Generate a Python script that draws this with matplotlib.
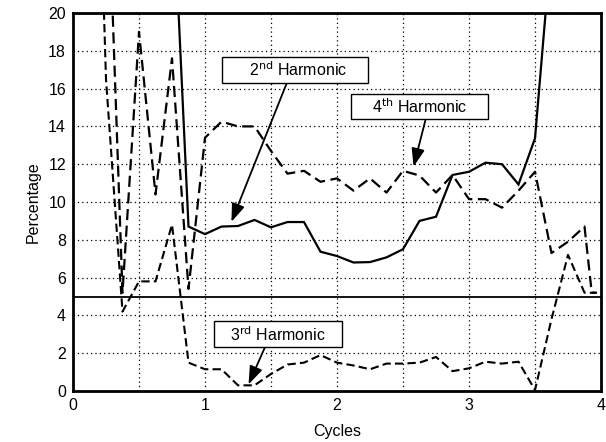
import matplotlib
matplotlib.use("Agg")
import matplotlib.pyplot as plt
from matplotlib.patches import Rectangle

plt.rcParams['font.family'] = ['Liberation Sans', 'DejaVu Sans']

# 2nd harmonic (solid)
x2 = [0.75, 0.875, 1.0, 1.125, 1.25, 1.375, 1.5, 1.625, 1.75, 1.875, 2.0, 2.125,
      2.25, 2.375, 2.5, 2.625, 2.75, 2.875, 3.0, 3.125, 3.25, 3.375, 3.5, 3.625]
h2 = [27.5, 8.7, 8.3, 8.7, 8.73, 9.05, 8.66, 8.94, 8.94, 7.37, 7.14, 6.8,
      6.82, 7.07, 7.5, 9.0, 9.22, 11.43, 11.6, 12.08, 12.0, 10.93, 13.37, 23.7]

# 3rd harmonic (short dashes)
x3 = [0.125, 0.25, 0.375, 0.5, 0.625, 0.75, 0.875, 1.0, 1.125, 1.25, 1.375, 1.5,
      1.625, 1.75, 1.875, 2.0, 2.125, 2.25, 2.375, 2.5, 2.625, 2.75, 2.875, 3.0,
      3.125, 3.25, 3.375, 3.5, 3.625, 3.75, 3.875, 3.96]
h3 = [45.0, 16.5, 4.2, 5.8, 5.8, 8.8, 1.5, 1.15, 1.15, 0.3, 0.3, 0.9,
      1.4, 1.5, 1.9, 1.5, 1.35, 1.15, 1.45, 1.45, 1.5, 1.8, 1.05, 1.2,
      1.55, 1.45, 1.55, 0.05, 3.8, 7.2, 5.2, 5.2]

# 4th harmonic (long dashes)
x4 = [0.25, 0.375, 0.5, 0.625, 0.75, 0.875, 1.0, 1.125, 1.25, 1.375, 1.5, 1.625,
      1.75, 1.875, 2.0, 2.125, 2.25, 2.375, 2.5, 2.625, 2.75, 2.875, 3.0, 3.125,
      3.25, 3.375, 3.5, 3.625, 3.75, 3.875, 3.93, 3.97]
h4 = [30.0, 5.2, 19.0, 10.4, 17.6, 5.4, 13.4, 14.25, 14.0, 14.0, 12.7, 11.5,
      11.65, 11.07, 11.25, 10.6, 11.25, 10.5, 11.65, 11.4, 10.5, 11.43, 10.15, 10.15,
      9.7, 10.6, 11.6, 7.3, 7.9, 8.7, 5.2, 5.2]

threshold = 5
xticks = [0, 0.5, 1, 1.5, 2, 2.5, 3, 3.5, 4]
xticklabels = ['0', '', '1', '', '2', '', '3', '', '4']
yticks = [0, 2, 4, 6, 8, 10, 12, 14, 16, 18, 20]

labels = [r'2$^{\mathrm{nd}}$ Harmonic', r'4$^{\mathrm{th}}$ Harmonic', r'3$^{\mathrm{rd}}$ Harmonic']

fig = plt.figure(figsize=(6.06, 4.42), dpi=100)
ax = fig.add_axes([73/606, 1 - 391/442, (601-73)/606, (391-13)/442])

ax.plot(x2, h2, color='black', lw=1.6, solid_joinstyle='miter')
ax.plot(x3, h3, color='black', lw=1.5, dashes=(4, 2))
ax.plot(x4, h4, color='black', lw=1.6, dashes=(5, 2.5))
ax.axhline(threshold, color='black', lw=1.3)

ax.set_xlim(0, 4)
ax.set_ylim(0, 20)
ax.set_xticks(xticks)
ax.set_xticklabels(xticklabels)
ax.set_yticks(yticks)
ax.grid(True, color='black', linestyle=(0, (1, 2.5)), lw=0.9)
ax.tick_params(direction='in', length=0, labelsize=11.5, colors='black', pad=5)
for s in ax.spines.values():
    s.set_linewidth(2)

ax.set_xlabel('Cycles', fontsize=11.5, labelpad=8)
ax.set_ylabel('Percentage', fontsize=11.5, labelpad=5)

arrow = dict(arrowstyle='-|>,head_length=1.1,head_width=0.4', color='black', lw=1.3,
             shrinkA=0, shrinkB=0)

# (box x0, x1, y0, y1) in data coordinates, text centre
boxes = [((1.129, 2.235, 16.3, 17.67), (1.705, 16.98), (1.62, 16.3), (1.2, 8.95)),
         ((2.106, 3.144, 14.39, 15.71), (2.63, 15.05), (2.672, 14.39), (2.58, 11.87)),
         ((1.068, 2.038, 2.33, 3.70), (1.555, 3.0), (1.455, 2.33), (1.33, 0.35))]

for lab, (bx, tc, a0, a1) in zip(labels, boxes):
    ax.annotate('', xy=a1, xytext=a0, arrowprops=arrow, zorder=4)
    ax.add_patch(Rectangle((bx[0], bx[2]), bx[1]-bx[0], bx[3]-bx[2],
                           fc='white', ec='black', lw=1.0, zorder=5))
    ax.text(tc[0], tc[1], lab, ha='center', va='center', fontsize=11.5, zorder=6)

fig.savefig('out.png', dpi=100)
